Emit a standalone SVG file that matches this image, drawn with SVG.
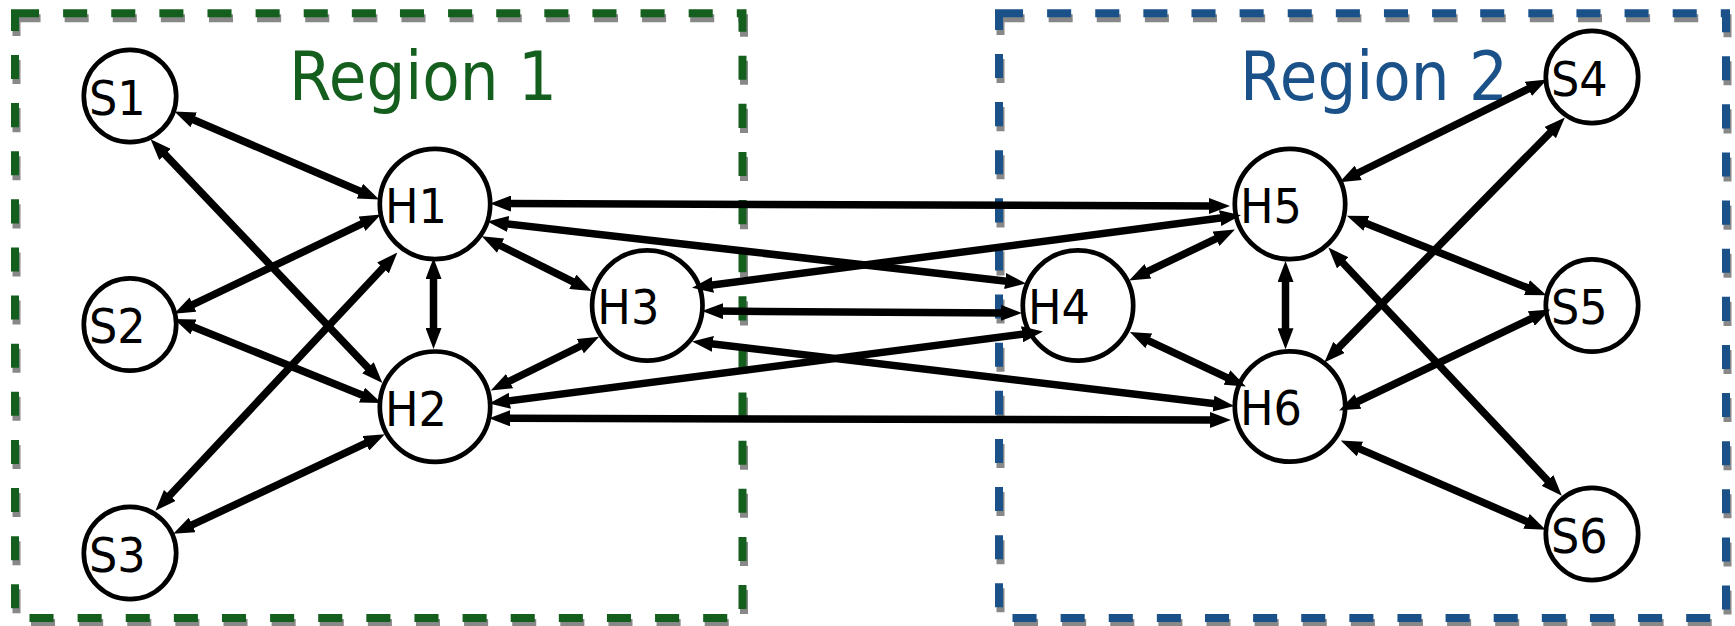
<svg xmlns="http://www.w3.org/2000/svg" width="1735" height="626" viewBox="0 0 1735 626">
  <style>
    .box { fill: none; stroke-width: 8; stroke-dasharray: 24.06 24.06; }
    .shadow { stroke: #888888; }
    .r1 { stroke: #145f1e; }
    .r2 { stroke: #1a5189; }
    .title { font-family: "DejaVu Sans", "Liberation Sans", sans-serif; font-size: 67px; }
    .node circle { fill: #ffffff; stroke: #000000; stroke-width: 4.7; }
    .node text { font-family: "DejaVu Sans", "Liberation Sans", sans-serif; font-size: 48px; fill: #000000; }
    .edge { stroke: #000000; stroke-width: 7.5; fill: none; marker-start: url(#head); marker-end: url(#head); }
  </style>
  <defs>
    <marker id="head" viewBox="0 -8 21 16" refX="6" refY="0" markerWidth="21" markerHeight="16" markerUnits="userSpaceOnUse" orient="auto-start-reverse">
      <path d="M0,-8 L21,0 L0,8 Z" fill="#000000"/>
    </marker>
  </defs>

  <rect width="1735" height="626" fill="#ffffff"/>

  <!-- region frames: grey drop shadow under a coloured dashed outline -->
  <g id="region1">
    <path class="box shadow" transform="translate(1.5,5)" d="M15,13.3 H742.5 V617.9 H15 Z"/>
    <path class="box r1" d="M15,13.3 H742.5 V617.9 H15 Z"/>
    <text class="title" x="289" y="100" fill="#145f1e" textLength="268" lengthAdjust="spacingAndGlyphs">Region 1</text>
  </g>
  <g id="region2">
    <path class="box shadow" transform="translate(1.5,5)" d="M999,13.3 H1726 V617.9 H999 Z"/>
    <path class="box r2" d="M999,13.3 H1726 V617.9 H999 Z"/>
    <text class="title" x="1240" y="100" fill="#1a5189" textLength="268" lengthAdjust="spacingAndGlyphs">Region 2</text>
  </g>

  <!-- nodes -->
  <g id="S1" class="node"><circle cx="130" cy="96" r="46.2"/><text x="89" y="114.8" textLength="56.7" lengthAdjust="spacingAndGlyphs">S1</text></g>
  <g id="S2" class="node"><circle cx="130" cy="324.5" r="46.2"/><text x="89" y="343.3" textLength="56.7" lengthAdjust="spacingAndGlyphs">S2</text></g>
  <g id="S3" class="node"><circle cx="130" cy="553" r="46.2"/><text x="89" y="571.8" textLength="56.7" lengthAdjust="spacingAndGlyphs">S3</text></g>
  <g id="H1" class="node"><circle cx="435" cy="204" r="55.2"/><text x="385" y="222.8" textLength="62" lengthAdjust="spacingAndGlyphs">H1</text></g>
  <g id="H2" class="node"><circle cx="435" cy="406.7" r="55.2"/><text x="385" y="425.5" textLength="62" lengthAdjust="spacingAndGlyphs">H2</text></g>
  <g id="H3" class="node"><circle cx="647.3" cy="305.5" r="55.2"/><text x="597.3" y="324.3" textLength="62" lengthAdjust="spacingAndGlyphs">H3</text></g>
  <g id="H4" class="node"><circle cx="1078" cy="305.5" r="55.2"/><text x="1028" y="324.3" textLength="62" lengthAdjust="spacingAndGlyphs">H4</text></g>
  <g id="H5" class="node"><circle cx="1290" cy="204" r="55.2"/><text x="1240" y="222.8" textLength="62" lengthAdjust="spacingAndGlyphs">H5</text></g>
  <g id="H6" class="node"><circle cx="1290" cy="406.5" r="55.2"/><text x="1240" y="425.3" textLength="62" lengthAdjust="spacingAndGlyphs">H6</text></g>
  <g id="S4" class="node"><circle cx="1592" cy="77" r="46.2"/><text x="1551" y="95.8" textLength="56.7" lengthAdjust="spacingAndGlyphs">S4</text></g>
  <g id="S5" class="node"><circle cx="1592" cy="305.5" r="46.2"/><text x="1551" y="324.3" textLength="56.7" lengthAdjust="spacingAndGlyphs">S5</text></g>
  <g id="S6" class="node"><circle cx="1592" cy="534" r="46.2"/><text x="1551" y="552.8" textLength="56.7" lengthAdjust="spacingAndGlyphs">S6</text></g>

  <!-- bidirectional links -->
  <g id="connectors">
    <line class="edge" x1="188.2" y1="117.5" x2="365.4" y2="193.5"/>
    <line class="edge" x1="160.9" y1="150.1" x2="372.1" y2="372.1"/>
    <line class="edge" x1="187.6" y1="307.2" x2="367.4" y2="221.1"/>
    <line class="edge" x1="188" y1="324.7" x2="367.5" y2="397.3"/>
    <line class="edge" x1="165.7" y1="499.8" x2="387.1" y2="263.5"/>
    <line class="edge" x1="186.8" y1="527.4" x2="371.3" y2="440.7"/>
    <line class="edge" x1="433.5" y1="273" x2="433.5" y2="334"/>
    <line class="edge" x1="495.2" y1="243" x2="578.2" y2="284.4"/>
    <line class="edge" x1="504.2" y1="383.8" x2="585.7" y2="343.5"/>
    <line class="edge" x1="505" y1="203.5" x2="1215" y2="206"/>
    <line class="edge" x1="502.2" y1="223.3" x2="1011.1" y2="281.7"/>
    <line class="edge" x1="706.9" y1="285.7" x2="1226.1" y2="217.3"/>
    <line class="edge" x1="717" y1="311.1" x2="1007" y2="312.9"/>
    <line class="edge" x1="503.9" y1="401.5" x2="1028.1" y2="333.5"/>
    <line class="edge" x1="706.9" y1="343.2" x2="1219.4" y2="404.3"/>
    <line class="edge" x1="504" y1="418.3" x2="1216" y2="420"/>
    <line class="edge" x1="1142.6" y1="273.9" x2="1221.4" y2="236.1"/>
    <line class="edge" x1="1143.4" y1="338.3" x2="1232.3" y2="380.1"/>
    <line class="edge" x1="1285.5" y1="276" x2="1285.5" y2="334.3"/>
    <line class="edge" x1="1352.9" y1="175.5" x2="1533.7" y2="86.2"/>
    <line class="edge" x1="1360.8" y1="221.2" x2="1532.5" y2="289.8"/>
    <line class="edge" x1="1338.7" y1="258.5" x2="1551.6" y2="484.8"/>
    <line class="edge" x1="1334.8" y1="351.7" x2="1554.4" y2="128.3"/>
    <line class="edge" x1="1352.6" y1="404" x2="1536.7" y2="316"/>
    <line class="edge" x1="1354.5" y1="446.6" x2="1532" y2="523.7"/>
  </g>
</svg>
